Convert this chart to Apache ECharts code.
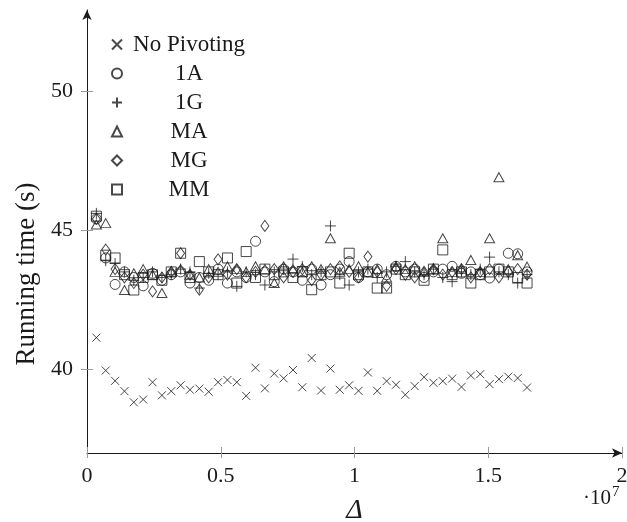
<!DOCTYPE html>
<html>
<head>
<meta charset="utf-8">
<script src="https://cdn.jsdelivr.net/npm/echarts@6/dist/echarts.min.js"></script>
<style>
  html, body { margin: 0; padding: 0; background: #ffffff; }
  #chart { width: 627px; height: 522px; }
</style>
</head>
<body>
<div id="chart"></div>
<script>
// Problem size Δ for every run
const deltas = [
  350000, 700000, 1050000, 1400000, 1750000, 2100000, 2450000, 2800000, 3150000, 3500000,
  3850000, 4200000, 4550000, 4900000, 5250000, 5600000, 5950000, 6300000, 6650000, 7000000,
  7350000, 7700000, 8050000, 8400000, 8750000, 9100000, 9450000, 9800000, 10150000, 10500000,
  10850000, 11200000, 11550000, 11900000, 12250000, 12600000, 12950000, 13300000, 13650000, 14000000,
  14350000, 14700000, 15050000, 15400000, 15750000, 16100000, 16450000
];

// Running times in seconds
const noPivoting = [
  41.14, 39.96, 39.59, 39.22, 38.82, 38.92, 39.54, 39.07, 39.22, 39.43,
  39.27, 39.31, 39.20, 39.54, 39.62, 39.54, 39.05, 40.06, 39.32, 39.85,
  39.68, 39.98, 39.36, 40.41, 39.24, 40.03, 39.27, 39.43, 39.23, 39.89,
  39.23, 39.58, 39.45, 39.09, 39.40, 39.72, 39.52, 39.58, 39.67, 39.37,
  39.78, 39.83, 39.47, 39.65, 39.74, 39.69, 39.35
];
const run1A = [
  45.40, 44.00, 43.05, 43.50, 43.30, 43.00, 43.45, 43.20, 43.40, 43.50,
  43.10, 43.30, 43.20, 43.60, 43.10, 43.50, 43.30, 44.60, 43.50, 43.15,
  43.60, 43.50, 43.20, 43.60, 43.03, 43.40, 43.60, 43.87, 43.30, 43.50,
  43.60, 43.40, 43.70, 43.50, 43.60, 43.30, 43.50, 43.60, 43.70, 43.45,
  43.50, 43.40, 43.28, 43.60, 44.17, 44.15, 43.50
];
const run1G = [
  45.60, 43.90, 43.80, 43.50, 43.20, 43.30, 43.50, 43.30, 43.40, 43.60,
  43.50, 42.92, 43.45, 43.40, 43.50, 42.98, 43.50, 43.40, 43.03, 43.50,
  43.60, 43.96, 43.69, 43.40, 43.50, 45.15, 43.40, 43.03, 43.50, 43.60,
  43.30, 43.50, 43.70, 43.87, 43.50, 43.40, 43.60, 43.30, 43.15, 43.50,
  43.40, 43.60, 44.03, 43.50, 43.40, 43.10, 43.40
];
const runMA = [
  45.20, 45.25, 43.50, 42.85, 43.45, 43.60, 43.40, 42.74, 43.50, 43.60,
  43.40, 43.30, 43.60, 43.50, 43.70, 43.60, 43.50, 43.70, 43.60, 43.10,
  43.70, 43.60, 43.50, 43.70, 43.60, 44.71, 43.50, 43.60, 43.70, 43.50,
  43.60, 43.30, 43.70, 43.60, 43.70, 43.50, 43.60, 44.71, 43.50, 43.60,
  43.93, 43.50, 44.71, 46.90, 43.60, 44.10, 43.69
];
const runMG = [
  45.40, 44.30, 43.60, 43.30, 43.10, 43.40, 42.80, 43.30, 43.50, 44.17,
  43.40, 42.86, 43.30, 43.95, 43.40, 43.60, 43.30, 43.50, 45.15, 43.60,
  43.30, 43.50, 43.60, 43.20, 43.40, 43.60, 43.70, 43.50, 43.30, 44.05,
  43.50, 43.00, 43.60, 43.40, 43.30, 43.50, 43.60, 43.40, 43.50, 43.60,
  43.30, 43.50, 43.60, 43.30, 43.50, 43.60, 43.40
];
const runMM = [
  45.50, 44.10, 44.00, 43.40, 42.85, 43.30, 43.40, 43.20, 43.50, 44.17,
  43.30, 43.87, 43.50, 43.40, 44.00, 43.10, 44.23, 43.30, 43.60, 43.40,
  43.50, 43.30, 43.50, 42.86, 43.40, 43.50, 43.10, 44.17, 43.40, 43.50,
  42.92, 42.92, 43.60, 43.40, 43.50, 43.20, 43.60, 44.29, 43.40, 43.50,
  43.10, 43.40, 43.50, 43.60, 43.50, 43.30, 43.10
];

const seriesNames = ['No Pivoting', '1A', '1G', 'MA', 'MG', 'MM'];
const seriesValues = [noPivoting, run1A, run1G, runMA, runMG, runMM];

const xTicks = [0, 5000000, 10000000, 15000000, 20000000];
const xTickLabels = ['0', '0.5', '1', '1.5', '2'];
const yTicks = [40, 45, 50];

const SERIF = "'Liberation Serif', 'DejaVu Serif', serif";
const INK = '#1a1a1a';
const TICK = '#9a9a9a';

const markers = [
  { symbol: 'path://M0,0L10,10M10,0L0,10', size: 8 },
  { symbol: 'circle', size: 10 },
  { symbol: 'path://M5,0L5,10M0,5L10,5', size: 11 },
  { symbol: 'triangle', size: [10, 9] },
  { symbol: 'diamond', size: [8, 11] },
  { symbol: 'rect', size: 10 }
];

const series = seriesNames.map((name, i) => ({
  name: name,
  type: 'scatter',
  xAxisIndex: 0,
  yAxisIndex: 0,
  symbol: markers[i].symbol,
  symbolSize: markers[i].size,
  itemStyle: { color: 'rgba(0,0,0,0)', borderColor: INK, borderWidth: 1 },
  emphasis: { disabled: true },
  data: deltas.map((d, k) => [d, seriesValues[i][k]])
}));

const xLabelFor = v => {
  const idx = xTicks.indexOf(v);
  return idx >= 0 ? xTickLabels[idx] : '';
};

const chart = echarts.init(document.getElementById('chart'), null, { renderer: 'canvas' });
chart.setOption({
  animation: false,
  backgroundColor: '#ffffff',
  grid: { left: 87, right: 5, top: 10, bottom: 69, outerBoundsMode: 'none', containLabel: false },
  legend: {
    orient: 'vertical',
    left: 106,
    top: 28,
    itemWidth: 10,
    itemHeight: 10,
    itemGap: 6,
    selectedMode: false,
    formatter: '{t|{name}}',
    textStyle: {
      color: INK,
      rich: {
        t: { fontFamily: SERIF, fontSize: 23, width: 124, align: 'center', lineHeight: 22, color: INK }
      }
    }
  },
  xAxis: [
    {
      type: 'value',
      min: 0,
      max: 20000000,
      interval: 5000000,
      splitLine: { show: false },
      axisLine: { show: true, lineStyle: { color: INK, width: 1 }, symbol: ['none', 'arrow'], symbolSize: [7, 10], onZero: false },
      axisTick: { show: true, length: 5, lineStyle: { color: TICK } },
      axisLabel: { show: true, margin: 12, fontFamily: SERIF, fontSize: 22, color: INK, formatter: xLabelFor, showMaxLabel: true },
      name: 'Δ',
      nameLocation: 'middle',
      nameGap: 44,
      nameTextStyle: { fontFamily: SERIF, fontStyle: 'italic', fontSize: 28, color: INK }
    },
    {
      type: 'value',
      min: 0,
      max: 20000000,
      interval: 5000000,
      position: 'bottom',
      splitLine: { show: false },
      axisLine: { show: false },
      axisTick: { show: true, inside: true, length: 6, lineStyle: { color: TICK } },
      axisLabel: { show: false }
    }
  ],
  yAxis: [
    {
      type: 'value',
      min: 37,
      max: 52.9,
      splitLine: { show: false },
      axisLine: { show: true, lineStyle: { color: INK, width: 1 }, symbol: ['none', 'arrow'], symbolSize: [7, 10], onZero: false },
      axisTick: { show: true, length: 6, customValues: yTicks, lineStyle: { color: TICK } },
      axisLabel: { show: true, margin: 14, fontFamily: SERIF, fontSize: 22, color: INK, customValues: yTicks }
    },
    {
      type: 'value',
      min: 37,
      max: 52.9,
      position: 'left',
      splitLine: { show: false },
      axisLine: { show: false },
      axisTick: { show: true, inside: true, length: 6, customValues: yTicks, lineStyle: { color: TICK } },
      axisLabel: { show: false, customValues: yTicks }
    }
  ],
  graphic: [
    {
      // y-axis title, set vertically beside the tick labels
      type: 'text',
      x: 27,
      y: 274,
      rotation: Math.PI / 2,
      style: {
        text: 'Running time (s)',
        fontFamily: SERIF,
        fontSize: 27,
        fill: INK,
        align: 'center',
        verticalAlign: 'middle'
      }
    },
    {
      // axis scale factor for Δ
      type: 'text',
      left: 583,
      top: 485,
      style: {
        text: '{a|·10}{b|7}',
        rich: {
          a: { fontFamily: SERIF, fontSize: 21, fill: INK, verticalAlign: 'bottom' },
          b: { fontFamily: SERIF, fontSize: 15, fill: INK, verticalAlign: 'bottom', padding: [0, 0, 9, 1] }
        }
      }
    }
  ],
  series: series
});
</script>
</body>
</html>
